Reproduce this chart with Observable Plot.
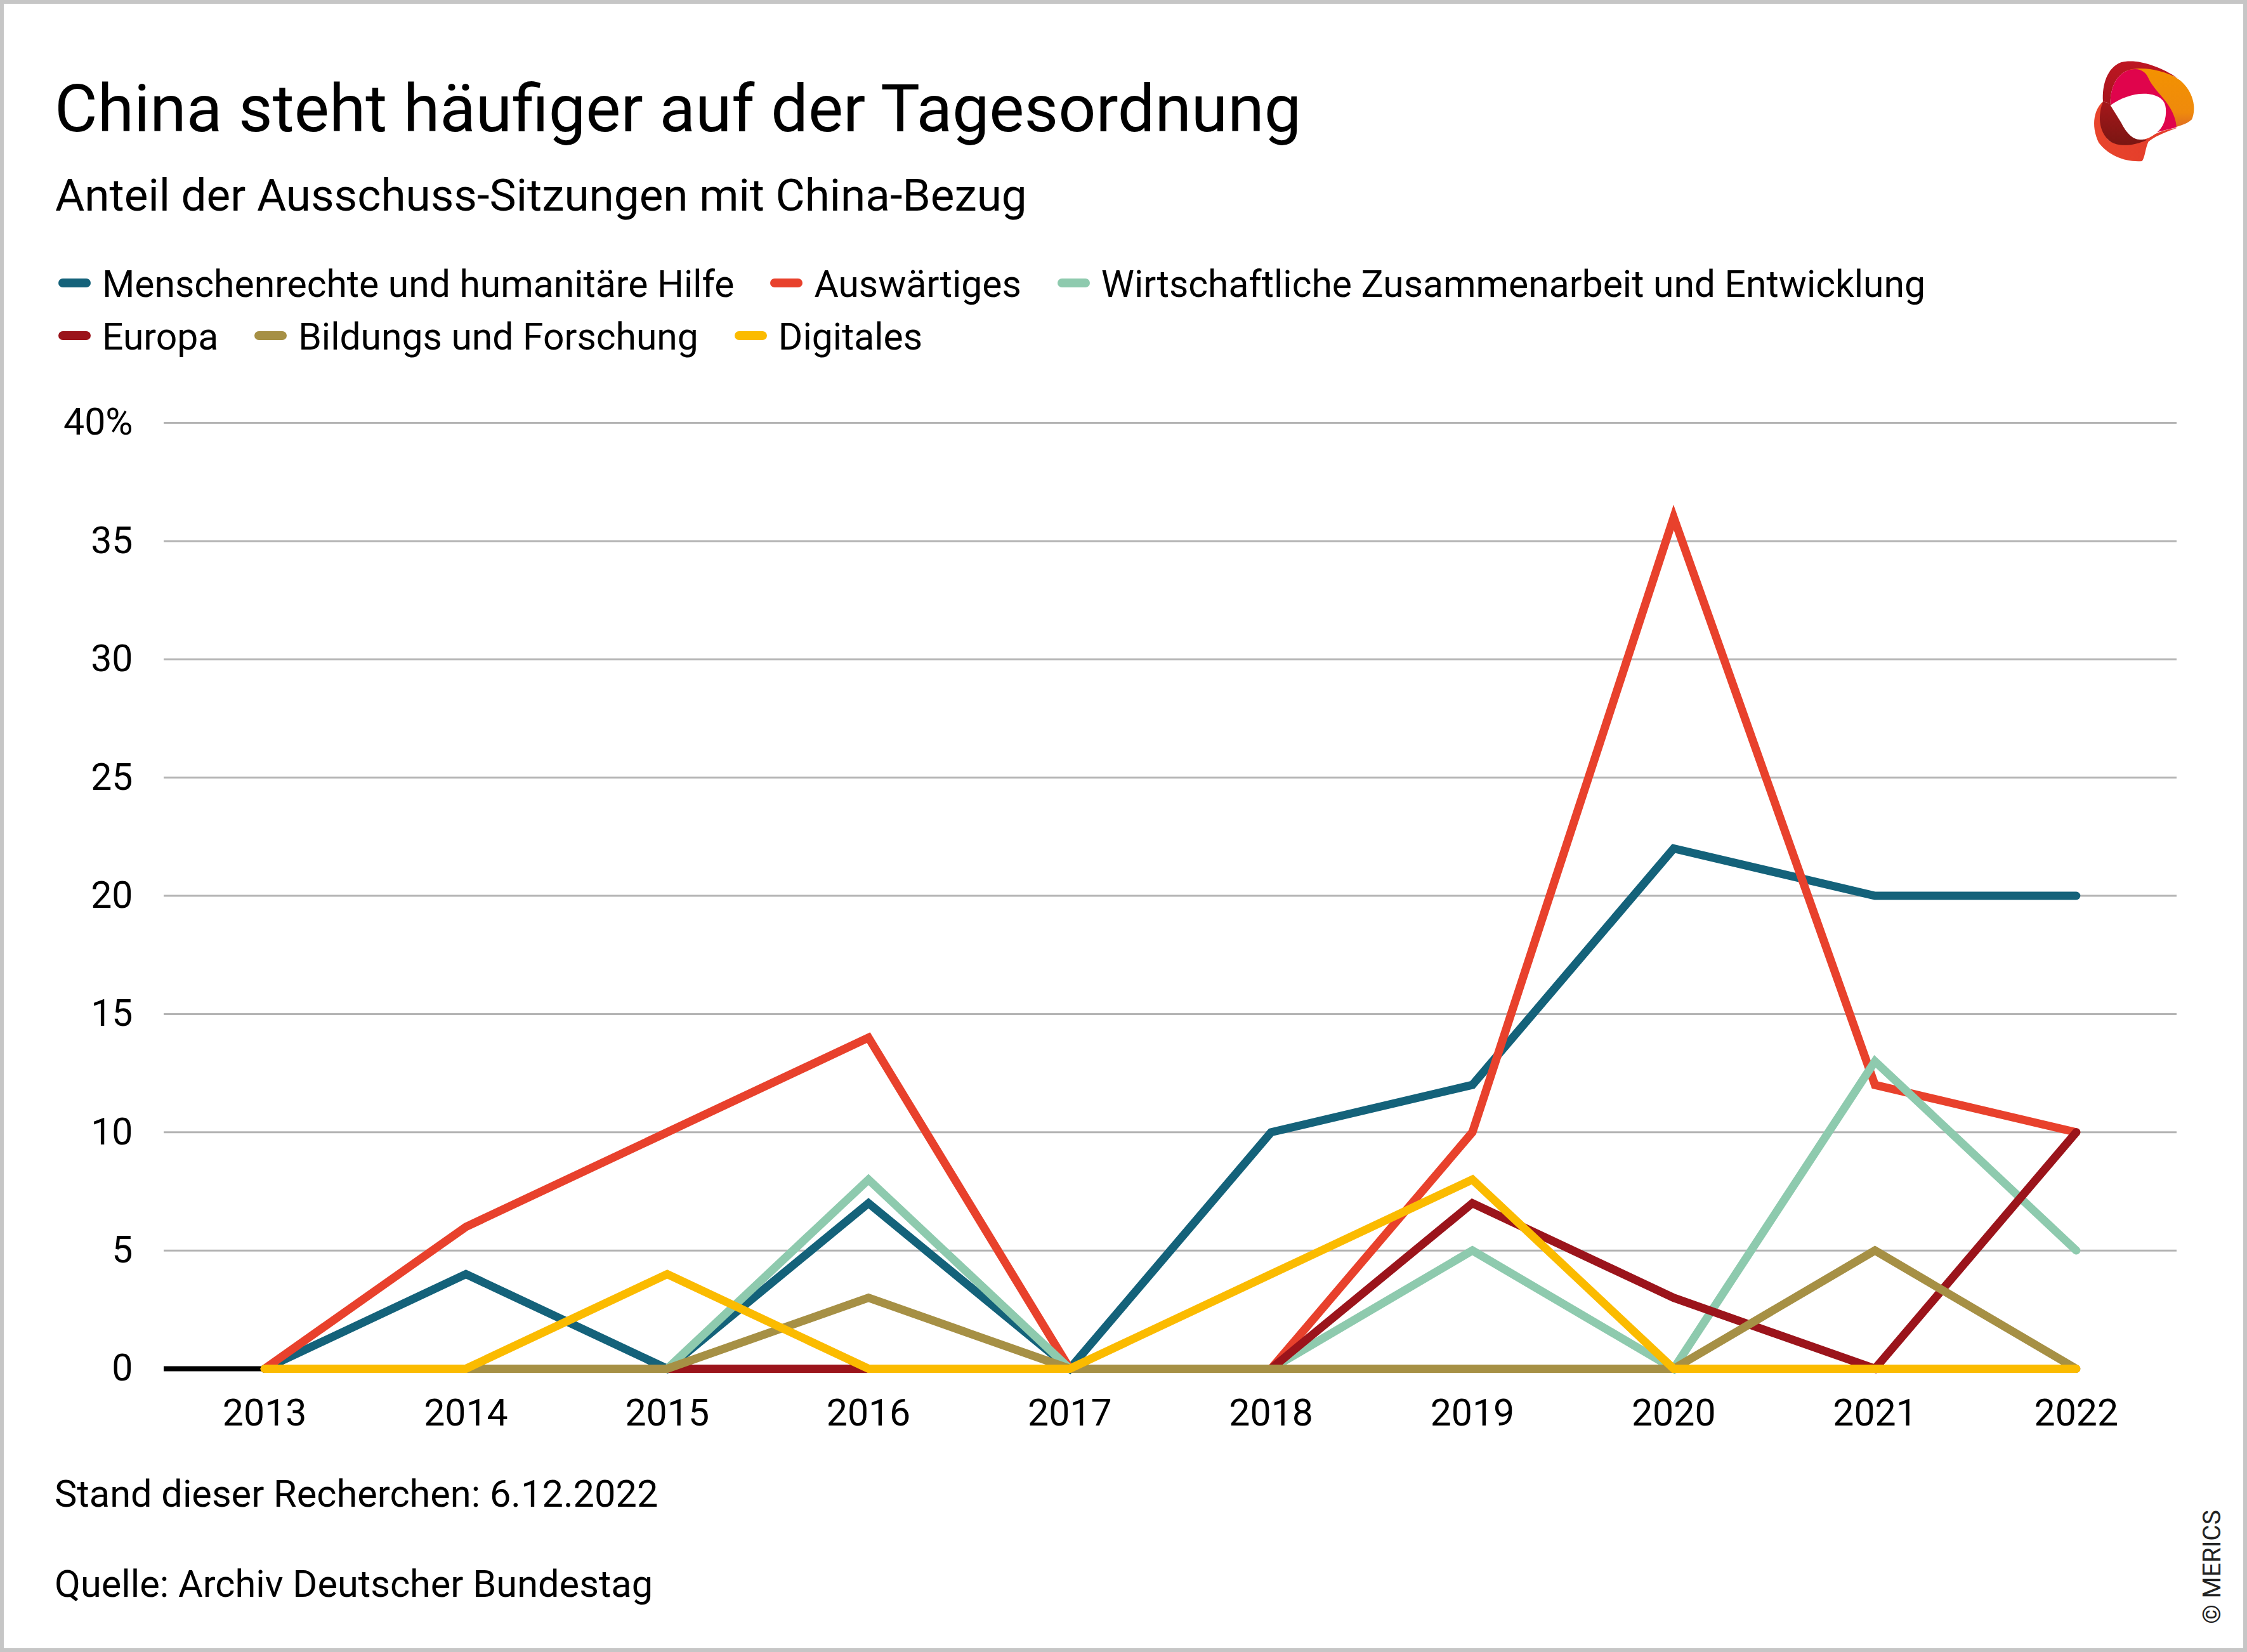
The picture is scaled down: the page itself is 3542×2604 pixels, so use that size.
<!DOCTYPE html>
<html>
<head>
<meta charset="utf-8">
<script src="https://cdn.jsdelivr.net/npm/d3@7"></script>
<script src="https://cdn.jsdelivr.net/npm/@observablehq/plot@0.6"></script>
<style>
  html, body { margin: 0; padding: 0; background: #fff; overflow: hidden; }
  #page { position: relative; width: 3542px; height: 2604px; box-sizing: border-box; border: 6px solid #c6c6c6; background: #fff; font-family: Roboto, "Open Sans", sans-serif; color: #000; }
  .txt { position: absolute; white-space: nowrap; line-height: 1; }
  .legrow { position: absolute; left: 86px; white-space: nowrap; font-size: 58.8px; line-height: 59px; }
  .sw { display: inline-block; width: 51px; height: 14px; border-radius: 7px; vertical-align: 15px; margin-right: 18px; }
  .lab { margin-right: 57px; }
  #chart { position: absolute; left: -6px; top: 594px; }
  #chart svg { max-width: none; }
</style>
</head>
<body>
<div id="page">
  <div class="txt" style="left:80px; top:114px; font-size:104px;">China steht häufiger auf der Tagesordnung</div>
  <div class="txt" style="left:81px; top:266px; font-size:71px;">Anteil der Ausschuss-Sitzungen mit China-Bezug</div>
  <div id="leg1" class="legrow" style="top:412px;"></div>
  <div id="leg2" class="legrow" style="top:495px;"></div>
  <div id="chart"></div>
  <div class="txt" style="left:80px; top:2320px; font-size:59.5px;">Stand dieser Recherchen: 6.12.2022</div>
  <div class="txt" style="left:80px; top:2462px; font-size:59.5px;">Quelle: Archiv Deutscher Bundestag</div>
  <div class="txt" style="left:3481px; top:2464px; font-size:39px; color:#222; transform: translate(-50%,-50%) rotate(-90deg);">© MERICS</div>
  <svg style="position:absolute; left:3194px; top:54px;" width="342" height="250" viewBox="0 0 1026 750">
    <defs>
      <linearGradient id="gOr" x1="0" y1="0" x2="0" y2="1">
        <stop offset="0" stop-color="#f39200"/>
        <stop offset="0.7" stop-color="#ef8a0c"/>
        <stop offset="1" stop-color="#d9622a"/>
      </linearGradient>
      <linearGradient id="gDr" x1="0" y1="0" x2="0" y2="1">
        <stop offset="0" stop-color="#be1622"/>
        <stop offset="1" stop-color="#a5151c"/>
      </linearGradient>
      <linearGradient id="gBr" x1="0" y1="0" x2="1" y2="0">
        <stop offset="0" stop-color="#e8452c"/>
        <stop offset="1" stop-color="#e33b2a"/>
      </linearGradient>
      <linearGradient id="gMa" x1="0" y1="0" x2="0" y2="1">
        <stop offset="0" stop-color="#a5171b"/>
        <stop offset="1" stop-color="#7a1612"/>
      </linearGradient>
    </defs>
    <path fill="url(#gOr)" d="M440,150 C520,120 630,140 710,200 C770,250 790,330 765,385 C740,410 700,418 650,430 L600,445 C640,400 645,330 615,285 C590,245 565,200 540,170 Z"/>
    <path fill="url(#gDr)" d="M345,300 C340,220 365,140 430,115 C500,95 610,130 700,190 C620,150 540,135 470,150 C410,170 380,230 380,310 Z"/>
    <path fill="#e0044c" d="M380,310 C380,230 410,170 470,150 C520,138 548,160 560,190 C578,230 612,262 642,300 C680,350 692,395 692,422 L600,445 C560,460 520,470 500,470 C460,440 420,370 380,310 Z"/>
    <path fill="url(#gBr)" d="M345,300 C300,340 288,420 325,495 C370,555 450,588 530,582 C545,560 545,520 560,490 C585,468 630,448 695,425 C650,430 600,445 560,470 C500,500 430,510 380,490 C330,450 325,370 345,300 Z"/>
    <path fill="url(#gMa)" d="M345,300 C322,360 320,440 378,488 C420,515 485,512 552,482 C505,470 470,440 442,400 C412,360 392,332 380,310 Z"/>
    <path fill="#fff" d="M380,318 C430,282 500,257 562,265 C612,272 640,295 642,333 C646,382 630,422 600,446 C572,470 550,480 520,480 C482,480 452,442 432,402 C408,362 392,338 380,318 Z"/>
  </svg>
</div>
<script>
const years = [2013, 2014, 2015, 2016, 2017, 2018, 2019, 2020, 2021, 2022];
const seriesNames = [
  "Menschenrechte und humanitäre Hilfe",
  "Auswärtiges",
  "Wirtschaftliche Zusammenarbeit und Entwicklung",
  "Europa",
  "Bildungs und Forschung",
  "Digitales"
];
const seriesColors = ["#14627a", "#e8412c", "#8ecaae", "#9b141b", "#a69045", "#fbbb00"];
const menschenrechte = [0, 4, 0, 7, 0, 10, 12, 22, 20, 20];
const auswaertiges   = [0, 6, 10, 14, 0, 0, 10, 36, 12, 10];
const wirtschaft     = [0, 0, 0, 8, 0, 0, 5, 0, 13, 5];
const europa         = [0, 0, 0, 0, 0, 0, 7, 3, 0, 10];
const bildung        = [0, 0, 0, 3, 0, 0, 0, 0, 5, 0];
const digitales      = [0, 0, 4, 0, 0, 4, 8, 0, 0, 0];
const yTicks = [0, 5, 10, 15, 20, 25, 30, 35, 40];
const legendRows = [[0, 1, 2], [3, 4, 5]];

const valueLists = [menschenrechte, auswaertiges, wirtschaft, europa, bildung, digitales];
const data = seriesNames.flatMap((s, i) => years.map((y, j) => ({series: s, year: y, value: valueLists[i][j]})));

// legend
legendRows.forEach((row, r) => {
  const el = document.getElementById(r === 0 ? "leg1" : "leg2");
  row.forEach(i => {
    const sw = document.createElement("span");
    sw.className = "sw";
    sw.style.background = seriesColors[i];
    const lab = document.createElement("span");
    lab.className = "lab";
    lab.textContent = seriesNames[i];
    el.appendChild(sw);
    el.appendChild(lab);
  });
});

const chart = Plot.plot({
  width: 3542,
  height: 1700,
  marginLeft: 258,
  marginRight: 111,
  marginTop: 66,
  marginBottom: 143,
  style: {fontFamily: "Roboto, sans-serif", fontSize: "59px", color: "#000", background: "transparent", overflow: "visible"},
  x: {type: "linear", domain: [2012.5, 2022.5]},
  y: {domain: [0, 40]},
  color: {domain: seriesNames, range: seriesColors},
  marks: [
    Plot.ruleY(yTicks.filter(d => d > 0), {stroke: "#b4b4b4", strokeWidth: 3}),
    Plot.ruleY([0], {x1: 2012.5, x2: 2013, stroke: "#000", strokeWidth: 8}),
    Plot.line(data, {x: "year", y: "value", z: "series", stroke: "series", strokeWidth: 13, strokeLinecap: "round", strokeLinejoin: "miter", strokeMiterlimit: 10}),
    Plot.axisX({ticks: years, tickFormat: d => String(d), tickSize: 0, tickPadding: 48, label: null, fontSize: 59}),
    Plot.axisY({ticks: yTicks, tickFormat: d => d === 40 ? "40%" : String(d), tickSize: 0, tickPadding: 49, label: null, fontSize: 59})
  ]
});
document.getElementById("chart").appendChild(chart);
</script>
</body>
</html>
